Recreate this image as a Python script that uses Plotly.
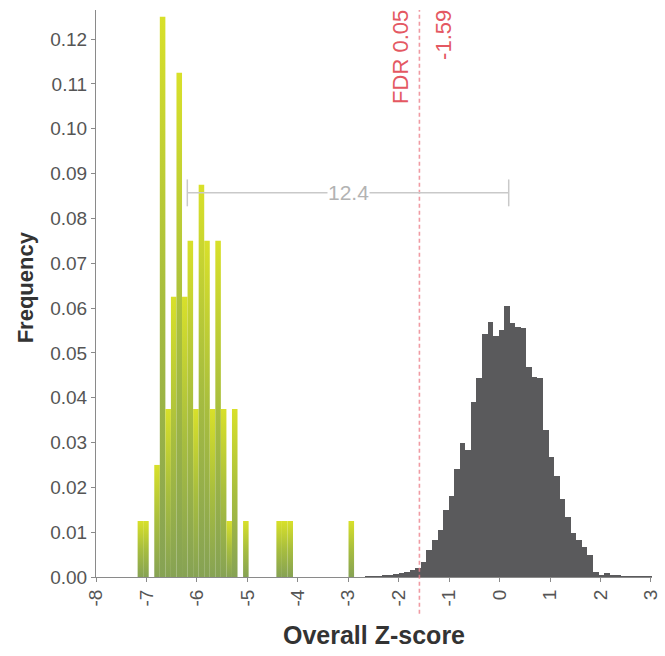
import plotly.graph_objects as go

# Yellow histogram: observed Z-scores (bin centres and frequencies)
hit_bins = [-7.12, -7.01, -6.79, -6.68, -6.57, -6.46, -6.35, -6.24, -6.13, -6.02,
            -5.91, -5.80, -5.69, -5.58, -5.47, -5.36, -5.25, -5.03,
            -4.37, -4.26, -4.15, -2.94]
hit_freq = [0.0125, 0.0125, 0.025, 0.125, 0.0375, 0.0625, 0.1125, 0.0625, 0.075, 0.0375,
            0.0875, 0.075, 0.0375, 0.075, 0.0375, 0.0125, 0.0375, 0.0125,
            0.0125, 0.0125, 0.0125, 0.0125]

# Grey histogram: null distribution of Z-scores
null_bins = [-2.605, -2.495, -2.385, -2.275, -2.165, -2.055, -1.945, -1.835, -1.725, -1.615,
             -1.505, -1.395, -1.285, -1.175, -1.065, -0.955, -0.845, -0.735, -0.625, -0.515,
             -0.405, -0.295, -0.185, -0.075, 0.035, 0.145, 0.255, 0.365, 0.475, 0.585,
             0.695, 0.805, 0.915, 1.025, 1.135, 1.245, 1.355, 1.465, 1.575, 1.685,
             1.795, 1.905, 2.015, 2.125, 2.235, 2.345, 2.455, 2.565, 2.675, 2.785,
             2.895, 3.005]
null_freq = [0.0001, 0.0002, 0.0002, 0.0003, 0.0004, 0.0006, 0.0009, 0.0012, 0.0015, 0.0020,
             0.0034, 0.0060, 0.0082, 0.0105, 0.0150, 0.0180, 0.0240, 0.0300, 0.0283, 0.0390,
             0.0443, 0.0543, 0.0568, 0.0538, 0.0550, 0.0605, 0.0567, 0.0558, 0.0555, 0.0469,
             0.0447, 0.0445, 0.0328, 0.0268, 0.0225, 0.0175, 0.0134, 0.0099, 0.0083, 0.0068,
             0.0050, 0.0012, 0.0004, 0.0010, 0.0004, 0.0003, 0.0002, 0.0002, 0.0001, 0.0001,
             0.0001, 0.0001]

BIN_WIDTH = 0.11

# Axis ticks
x_ticks = [-8, -7, -6, -5, -4, -3, -2, -1, 0, 1, 2, 3]
x_ticktext = ["-8", "-7", "-6", "-5", "-4", "-3", "-2", "-1", "0", "1", "2", "3"]
y_ticks = [0.00, 0.01, 0.02, 0.03, 0.04, 0.05, 0.06, 0.07, 0.08, 0.09, 0.10, 0.11, 0.12]

# Annotated values
fdr_threshold = -1.59
fdr_label = "FDR 0.05"
bracket_left = -6.19
bracket_right = 0.18
bracket_level = 0.0857
bracket_text = "12.4"

FONT = "Liberation Sans, Arial, sans-serif"
GREEN = "rgb(134,162,84)"
YELLOW = "rgb(216,224,42)"
RED_TEXT = "rgb(228,88,98)"

fig = go.Figure()

# grey null distribution
fig.add_trace(go.Bar(
    x=null_bins, y=null_freq, width=BIN_WIDTH,
    marker=dict(color="#5a5a5c", line=dict(width=0)),
    showlegend=False, hoverinfo="skip",
))

# each yellow bar gets its own vertical gradient (olive base -> yellow top)
for xc, f in zip(hit_bins, hit_freq):
    x0, x1 = xc - BIN_WIDTH / 2, xc + BIN_WIDTH / 2
    fig.add_trace(go.Scatter(
        x=[x0, x0, x1, x1, x0], y=[0, f, f, 0, 0],
        mode="lines", line=dict(width=0), fill="toself",
        fillgradient=dict(type="vertical",
                          colorscale=[[0, GREEN], [0.5, "rgb(168,190,62)"], [1, YELLOW]]),
        showlegend=False, hoverinfo="skip",
    ))

# FDR threshold line (dotted, runs slightly below the axis)
fig.add_shape(type="line", xref="x", yref="paper",
              x0=fdr_threshold, x1=fdr_threshold, y0=-0.065, y1=1.0,
              line=dict(color="rgba(236,130,140,0.8)", width=1.6, dash="4px,3px"))

fig.add_annotation(x=fdr_threshold, y=1, xref="x", yref="paper",
                   text=fdr_label, textangle=-90, showarrow=False,
                   xanchor="right", yanchor="top", xshift=-5, yshift=2,
                   font=dict(family=FONT, size=22, color=RED_TEXT))
fig.add_annotation(x=fdr_threshold, y=1, xref="x", yref="paper",
                   text=f"{fdr_threshold:.2f}", textangle=-90, showarrow=False,
                   xanchor="left", yanchor="top", xshift=9, yshift=2,
                   font=dict(family=FONT, size=22, color=RED_TEXT))

# separation bracket
bracket_color = "#c9c9c9"
fig.add_shape(type="line", x0=bracket_left, x1=bracket_right, y0=bracket_level, y1=bracket_level,
              line=dict(color=bracket_color, width=1.5))
for xb in (bracket_left, bracket_right):
    fig.add_shape(type="line", x0=xb, x1=xb, y0=bracket_level - 0.003, y1=bracket_level + 0.003,
                  line=dict(color=bracket_color, width=1.5))
fig.add_annotation(x=(bracket_left + bracket_right) / 2, y=bracket_level,
                   text=bracket_text, showarrow=False, bgcolor="white",
                   font=dict(family=FONT, size=21, color="#b3b3b3"), borderpad=0)

# y-axis title placed as an annotation so it can sit slightly above centre
fig.add_annotation(x=0, y=0.51, xref="paper", yref="paper", xanchor="right", yanchor="middle",
                   xshift=-56, text="<b>Frequency</b>", textangle=-90, showarrow=False,
                   font=dict(family=FONT, size=22, color="#333333"))

fig.update_layout(
    width=665, height=656,
    margin=dict(l=96, r=13, t=10, b=79),
    paper_bgcolor="white", plot_bgcolor="white",
    bargap=0, barmode="overlay",
    font=dict(family=FONT, color="#555555"),
    xaxis=dict(
        range=[-8, 3.02], tickvals=x_ticks, ticktext=x_ticktext, tickangle=-90,
        ticklabeloverflow="allow", automargin=False,
        showgrid=False, zeroline=False, showline=True, linecolor="#8a8a8a", linewidth=1,
        ticks="outside", ticklen=4, tickcolor="#8a8a8a",
        tickfont=dict(family=FONT, size=19, color="#555555"),
        title=dict(text="<b>Overall Z-score</b>", standoff=20,
                   font=dict(family=FONT, size=25, color="#333333")),
    ),
    yaxis=dict(
        range=[0, 0.1265], tickvals=y_ticks, tickformat=".2f", automargin=False,
        showgrid=False, zeroline=False, showline=True, linecolor="#8a8a8a", linewidth=1,
        ticks="outside", ticklen=4, tickcolor="#8a8a8a",
        tickfont=dict(family=FONT, size=19, color="#555555"),
    ),
)

fig.write_html("out.html")
